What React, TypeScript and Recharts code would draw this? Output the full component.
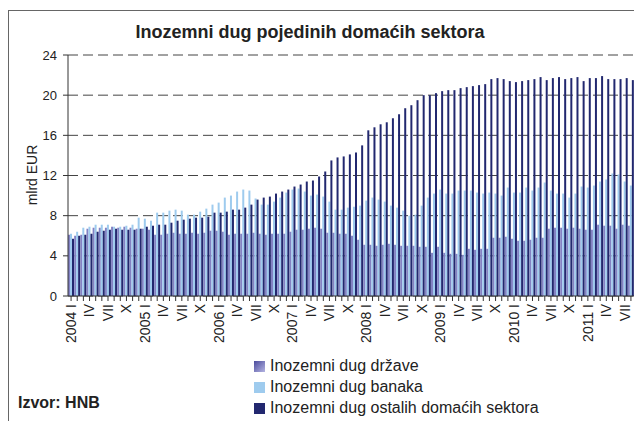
import React from 'react';
import { BarChart, Bar, XAxis, YAxis, CartesianGrid } from 'recharts';

const years = ['2004', '2005', '2006', '2007', '2008', '2009', '2010', '2011'];
const monthNames = ['I', 'II', 'III', 'IV', 'V', 'VI', 'VII', 'VIII', 'IX', 'X', 'XI', 'XII'];
const labeledMonths = ['I', 'IV', 'VII', 'X'];
const yTicks = [0, 4, 8, 12, 16, 20, 24];
const seriesNames = [
  'Inozemni dug države',
  'Inozemni dug banaka',
  'Inozemni dug ostalih domaćih sektora',
];
const seriesColors = ['#8282c4', '#9ecbee', '#22286f'];

// 2004 I – 2011 VIII, mlrd EUR
const stateDebt = [
  6.1, 6.0, 6.1, 6.7, 6.8, 6.8, 6.8, 6.9, 6.8, 6.9, 6.8, 6.7,
  6.7, 6.6, 6.1, 6.1, 6.2, 6.3, 6.2, 6.2, 6.3, 6.2, 6.3, 6.5,
  6.5, 6.4, 6.1, 6.2, 6.2, 6.2, 6.3, 6.2, 6.1, 6.2, 6.2, 6.2,
  6.4, 6.6, 6.6, 6.7, 6.8, 6.7, 6.3, 6.3, 6.2, 6.2, 6.0, 5.6,
  5.1, 5.1, 5.0, 5.1, 5.2, 5.1, 5.0, 5.0, 5.0, 4.9, 4.9, 4.3,
  4.9, 4.3, 4.2, 4.2, 4.1, 4.7, 4.6, 4.7, 4.7, 5.8, 5.8, 5.9,
  5.7, 5.5, 5.5, 5.6, 5.8, 5.8, 6.7, 6.8, 6.8, 6.7, 6.8, 6.7,
  6.6, 6.6, 7.1, 7.0, 7.0, 6.7, 7.1, 7.0,
];
const bankDebt = [
  6.2, 6.4, 6.8, 6.9, 7.1, 7.1, 7.1, 6.9, 6.9, 7.0, 7.1, 7.8,
  7.7, 7.5, 8.3, 8.3, 8.5, 8.6, 8.5, 8.1, 8.1, 8.4, 8.7, 9.1,
  9.3, 9.8, 10.0, 10.4, 10.6, 10.5, 9.7, 9.1, 9.1, 9.4, 9.8, 10.3,
  10.6, 10.7, 10.4, 10.0, 10.1, 9.9, 9.4, 8.6, 8.6, 8.8, 8.9, 9.0,
  9.5, 9.8, 9.6, 9.4, 9.0, 8.8, 8.5, 8.0, 8.1, 9.0, 9.8, 10.2,
  10.6, 10.2, 10.2, 10.5, 10.5, 10.5, 10.3, 10.2, 10.3, 10.2, 10.0, 10.8,
  10.3, 10.3, 10.8, 10.5, 10.8, 11.3, 10.5, 10.2, 10.2, 9.8, 10.2, 10.9,
  10.8, 11.0, 11.4, 11.6, 12.2, 12.1, 11.4, 11.0,
];
const otherDebt = [
  5.7, 6.0, 6.1, 6.2, 6.4, 6.5, 6.6, 6.7, 6.6, 6.6, 6.6, 6.7,
  6.9, 7.0, 7.1, 7.1, 7.3, 7.5, 7.6, 7.7, 7.8, 7.8, 7.9, 8.3,
  8.3, 8.4, 8.6, 8.6, 8.8, 9.1, 9.6, 9.8, 9.9, 10.2, 10.4, 10.6,
  10.9, 11.1, 11.4, 11.5, 11.9, 12.4, 13.5, 13.8, 13.9, 14.1, 14.3, 15.0,
  16.5, 16.8, 17.1, 17.3, 17.7, 18.1, 18.7, 19.0, 19.5, 20.0, 20.0, 20.2,
  20.4, 20.5, 20.5, 20.7, 20.8, 20.9, 21.0, 21.1, 21.6, 21.7, 21.6, 21.4,
  21.3, 21.4, 21.5, 21.6, 21.8, 21.5, 21.7, 21.8, 21.6, 21.7, 21.8, 21.4,
  21.7, 21.7, 21.9, 21.6, 21.6, 21.6, 21.7, 21.5,
];

const categories = years
  .flatMap((y) => monthNames.map((m) => `${y}-${m}`))
  .slice(0, stateDebt.length);

const data = categories.map((c, i) => ({
  key: c,
  state: stateDebt[i],
  bank: bankDebt[i],
  other: otherDebt[i],
}));

const FONT = '"Liberation Sans", Arial, Helvetica, sans-serif';

const MonthTick = (props: any) => {
  const { x, y, payload } = props;
  const [yr, m] = String(payload.value).split('-');
  if (!labeledMonths.includes(m)) return <g />;
  const text = m === 'I' ? `${yr} I` : m;
  return (
    <text
      transform={`translate(${x},${y + 1}) rotate(-90)`}
      textAnchor="end"
      dy="0.35em"
      fontSize={14}
      fill="#222"
      fontFamily={FONT}
    >
      {text}
    </text>
  );
};

export default function App() {
  return (
    <div
      style={{
        position: 'fixed',
        left: 0,
        top: 0,
        width: 634,
        height: 421,
        overflow: 'hidden',
        background: '#fff',
        fontFamily: FONT,
      }}
    >
      <div
        style={{
          position: 'absolute',
          left: 8,
          top: 10,
          width: 800,
          height: 600,
          border: '1px solid #666',
        }}
      />
      <div style={{ position: 'absolute', left: 0, top: 0 }}>
        <BarChart
          width={634}
          height={421}
          data={data}
          margin={{ top: 55, right: 0, bottom: 0, left: 0 }}
          barCategoryGap={0}
          barGap={0}
        >
          <CartesianGrid vertical={false} stroke="#444" strokeDasharray="10 5" />
          <XAxis
            dataKey="key"
            interval={0}
            height={125}
            tickSize={5}
            tick={<MonthTick />}
            axisLine={{ stroke: '#333' }}
            tickLine={{ stroke: '#333' }}
          />
          <YAxis
            domain={[0, 24]}
            ticks={yTicks}
            interval={0}
            width={68}
            tickSize={5}
            tickMargin={6}
            axisLine={{ stroke: '#333' }}
            tickLine={{ stroke: '#333' }}
            tick={{ fontSize: 13, fill: '#222', fontFamily: FONT }}
          />
          <Bar dataKey="state" name={seriesNames[0]} fill={seriesColors[0]} isAnimationActive={false} />
          <Bar dataKey="bank" name={seriesNames[1]} fill={seriesColors[1]} isAnimationActive={false} />
          <Bar dataKey="other" name={seriesNames[2]} fill={seriesColors[2]} isAnimationActive={false} />
        </BarChart>
      </div>
      <div
        style={{
          position: 'absolute',
          left: 0,
          width: 620,
          top: 21,
          textAlign: 'center',
          fontWeight: 'bold',
          fontSize: 18,
          lineHeight: '22px',
          color: '#222',
        }}
      >
        Inozemni dug pojedinih domaćih sektora
      </div>
      <div
        style={{
          position: 'absolute',
          left: 32 - 50,
          top: 175 - 10,
          width: 100,
          height: 20,
          lineHeight: '20px',
          textAlign: 'center',
          fontSize: 14,
          color: '#222',
          transform: 'rotate(-90deg)',
        }}
      >
        mlrd EUR
      </div>
      <div
        style={{
          position: 'absolute',
          left: 18,
          top: 393,
          fontWeight: 'bold',
          fontSize: 16,
          lineHeight: '20px',
          color: '#222',
        }}
      >
        Izvor: HNB
      </div>
      {seriesNames.map((name, i) => (
        <div
          key={name}
          style={{
            position: 'absolute',
            left: 254,
            top: 356 + i * 21,
            height: 20,
            display: 'flex',
            alignItems: 'center',
            fontSize: 16,
            color: '#222',
            whiteSpace: 'nowrap',
          }}
        >
          <span
            style={{
              display: 'inline-block',
              width: 11,
              height: 11,
              marginRight: 5,
              background:
                i === 0
                  ? 'linear-gradient(135deg, #4b4b9c, #b4b4e2)'
                  : seriesColors[i],
            }}
          />
          {name}
        </div>
      ))}
    </div>
  );
}
